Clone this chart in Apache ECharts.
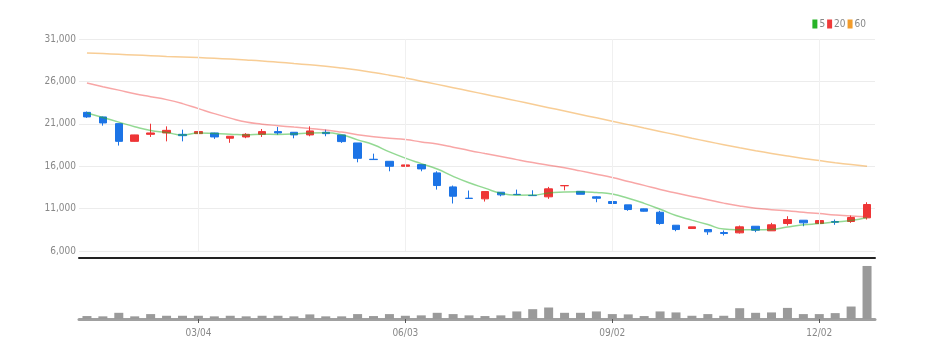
<!DOCTYPE html>
<html><head><meta charset="utf-8">
<script src="https://cdn.jsdelivr.net/npm/echarts@6/dist/echarts.min.js"></script>
<style>html,body{margin:0;padding:0;background:#fff}#c{width:929px;height:359px}</style>
</head><body><div id="c"></div>
<script>
const dates = ['01/15','01/22','01/29','02/05','02/12','02/19','02/26','03/04','03/11','03/18','03/25','04/01','04/08','04/15','04/22','04/29','05/06','05/13','05/20','05/27','06/03','06/10','06/17','06/24','07/01','07/08','07/15','07/22','07/29','08/05','08/12','08/19','08/26','09/02','09/09','09/16','09/23','09/30','10/07','10/14','10/21','10/28','11/04','11/11','11/18','11/25','12/02','12/09','12/16','12/23'];
const openV  = [22350,21810,21020,18930,19760,19920,19760,19840,19920,19300,19450,19760,20080,20000,19690,20000,19690,18740,16820,16580,15990,16190,15210,13560,12230,12150,12930,12680,12560,12390,13690,13040,12390,11830,11440,10970,10570,9040,8650,8530,8180,8140,8920,8380,9240,9630,9240,9480,9480,9910];
const closeV = [21810,21100,18930,19690,19920,20230,19600,20080,19450,19530,19760,20080,19920,19690,20160,19840,18900,16930,16780,15990,16150,15680,13720,12460,12190,13010,12620,12650,12530,13330,13720,12690,12220,11600,10890,10690,9240,8530,8850,8260,8060,8850,8450,9090,9710,9320,9590,9390,9950,11480];
const lowV   = [21700,20780,18430,18900,19450,18930,18930,19130,19220,18760,19300,19450,19720,19290,19530,19530,18750,16460,16780,15400,15990,15400,13240,11600,12190,11830,12450,12650,12530,12150,13160,12690,11750,11600,10740,10650,9090,8330,8650,7910,7830,8060,8220,8380,9000,8920,9000,9090,9320,9710];
const highV  = [22450,21850,21050,19700,21010,20700,20310,20550,19950,19530,19900,20390,20630,20000,20700,20310,19690,18740,17480,16580,16150,16190,15400,13720,13130,13010,12930,13240,13160,13560,13720,13040,12450,12070,11440,11000,10740,9040,8850,8530,8420,9000,8920,9320,10100,9630,9790,9710,10180,11750];
const ma5  = [22280,21740,21200,20650,20200,19974,19674,19904,19856,19778,19684,19780,19748,19796,19922,19938,19702,19104,18522,17688,16950,16306,15664,14800,14040,13412,12800,12586,12600,12828,12970,12984,12898,12712,12224,11618,10928,10190,9640,9114,8588,8510,8494,8542,8832,9084,9232,9420,9592,9946];
const ma20 = [25810,25380,24970,24550,24200,23850,23380,22790,22200,21670,21200,20960,20780,20610,20450,20280,20020,19720,19480,19300,19137,18866,18605,18244,17857,17496,17147,16776,16430,16120,15818,15448,15063,14659,14195,13738,13255,12835,12438,12052,11647,11306,11042,10874,10750,10565,10414,10251,10122,10029];
const ma60 = [29348,29277,29195,29112,29030,28947,28877,28806,28724,28629,28523,28406,28264,28111,27958,27793,27581,27334,27051,26733,26391,26026,25649,25260,24872,24483,24094,23705,23305,22904,22504,22103,21703,21302,20902,20501,20101,19700,19300,18911,18534,18169,17827,17509,17203,16920,16661,16414,16190,15989];
const volume = [300000,270000,630000,270000,500000,330000,330000,330000,270000,330000,270000,330000,330000,270000,470000,270000,270000,500000,300000,500000,330000,370000,630000,500000,370000,300000,370000,770000,1000000,1170000,630000,630000,770000,500000,470000,300000,770000,670000,330000,500000,330000,1100000,630000,670000,1130000,500000,500000,600000,1270000,5400000];
const yTicks = [6000, 11000, 16000, 21000, 26000, 31000];
const labelIdx = [7, 20, 33, 46];
const legendNames = ['5', '20', '60'];

const candleData = dates.map((d, i) => [openV[i], closeV[i], lowV[i], highV[i]]);
const showIdx = (i) => labelIdx.indexOf(i) >= 0;
const FONT = '"DejaVu Sans Condensed", Roboto, sans-serif';

const chart = echarts.init(document.getElementById('c'), null, {renderer: 'canvas'});
chart.setOption({
  animation: false,
  legend: {
    data: [
      {name: legendNames[0], itemStyle: {color: '#27b327'}},
      {name: legendNames[1], itemStyle: {color: '#ef3a3a'}},
      {name: legendNames[2], itemStyle: {color: '#f29c2b'}}
    ],
    right: 58, top: 14, icon: 'rect', itemWidth: 5, itemHeight: 9, itemGap: 2,
    textStyle: {fontSize: 10, color: '#888', fontFamily: FONT, padding: [0, 0, 0, -3]}
  },
  grid: [
    {left: 79, width: 796, top: 39, height: 212},
    {left: 79, width: 796, top: 264, height: 55}
  ],
  xAxis: [
    {type: 'category', data: dates, gridIndex: 0, boundaryGap: true, offset: 7,
     axisLine: {show: true, lineStyle: {color: '#222', width: 2}},
     axisTick: {show: false}, axisLabel: {show: false}, splitLine: {show: false}},
    {type: 'category', data: dates, gridIndex: 1, boundaryGap: true,
     axisLine: {show: true, lineStyle: {color: '#a0a0a0', width: 3}},
     axisTick: {show: true, alignWithLabel: true, length: 4, interval: (i) => showIdx(i), lineStyle: {color: '#555'}},
     axisLabel: {show: true, interval: (i) => showIdx(i), fontSize: 10, color: '#888', fontFamily: FONT, margin: 9},
     splitLine: {show: false}}
  ],
  yAxis: [
    {type: 'value', gridIndex: 0, min: yTicks[0], max: yTicks[yTicks.length - 1], interval: 5000,
     axisLine: {show: false}, axisTick: {show: false},
     axisLabel: {fontSize: 10, color: '#888', fontFamily: FONT, margin: 3},
     splitLine: {lineStyle: {color: '#ececec'}}},
    {type: 'value', gridIndex: 1, min: 0, max: 5600000, show: false, splitLine: {show: false}}
  ],
  series: [
    {name: 'price', type: 'candlestick', xAxisIndex: 0, yAxisIndex: 0, data: candleData, barWidth: 8,
     itemStyle: {color: '#ee3536', color0: '#1c74e6', borderColor: '#ee3536', borderColor0: '#1c74e6', borderWidth: 1},
     markLine: {silent: true, symbol: 'none', label: {show: false},
       lineStyle: {color: '#f0f0f0', type: 'solid', width: 1},
       data: labelIdx.map(i => ({xAxis: i}))}},
    {name: legendNames[0], type: 'line', xAxisIndex: 0, yAxisIndex: 0, data: ma5, smooth: true, showSymbol: false,
     lineStyle: {color: '#27b327', width: 1.5, opacity: 0.5}, itemStyle: {color: '#27b327'}},
    {name: legendNames[1], type: 'line', xAxisIndex: 0, yAxisIndex: 0, data: ma20, smooth: true, showSymbol: false,
     lineStyle: {color: '#ef3a3a', width: 1.5, opacity: 0.45}, itemStyle: {color: '#ef3a3a'}},
    {name: legendNames[2], type: 'line', xAxisIndex: 0, yAxisIndex: 0, data: ma60, smooth: true, showSymbol: false,
     lineStyle: {color: '#f29c2b', width: 1.5, opacity: 0.5}, itemStyle: {color: '#f29c2b'}},
    {name: 'vol', type: 'bar', xAxisIndex: 1, yAxisIndex: 1, data: volume, barWidth: 9,
     itemStyle: {color: '#9a9a9a'}}
  ]
});
</script></body></html>
